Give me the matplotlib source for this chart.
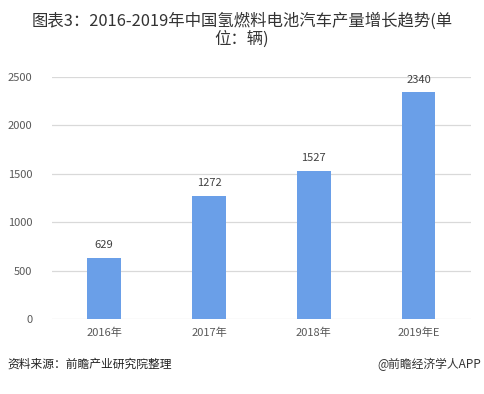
import matplotlib
matplotlib.use("Agg")
import matplotlib.pyplot as plt

plt.rcParams['font.family'] = ['Noto Sans CJK SC', 'DejaVu Sans']

years = ["2016年", "2017年", "2018年", "2019年E"]
output = [629, 1272, 1527, 2340]
yticks = [0, 500, 1000, 1500, 2000, 2500]

fig = plt.figure(figsize=(4.84, 3.94), dpi=100)
ax = fig.add_axes([0.107, 0.19, 0.866, 0.615])

x = range(len(years))
bars = ax.bar(x, output, width=0.32, color='#6A9FE8', zorder=3)
for xi, v in zip(x, output):
    ax.text(xi, v + 80, str(v), ha='center', va='bottom', fontsize=8, color='#404040')

ax.set_xlim(-0.5, len(years) - 0.5)
ax.set_ylim(0, 2500)
ax.set_yticks(yticks)
ax.set_xticks(list(x))
ax.set_xticklabels(years)
ax.tick_params(axis='both', length=0, labelsize=8, labelcolor='#595959')
ax.tick_params(axis='y', pad=14)
ax.tick_params(axis='x', pad=6)
ax.yaxis.grid(True, color='#D9D9D9', linewidth=0.9, zorder=0)
for s in ax.spines.values():
    s.set_visible(False)

fig.text(0.5, 0.968, "图表3：2016-2019年中国氢燃料电池汽车产量增长趋势(单\n位：辆)",
         ha='center', va='top', fontsize=11.8, color='#333333', linespacing=1.05)
fig.text(0.015, 0.075, "资料来源：前瞻产业研究院整理", ha='left', va='center',
         fontsize=8.5, color='#222222', style='italic')
fig.text(0.995, 0.075, "@前瞻经济学人APP", ha='right', va='center',
         fontsize=8.5, color='#333333')

fig.savefig("out.png", dpi=100)
